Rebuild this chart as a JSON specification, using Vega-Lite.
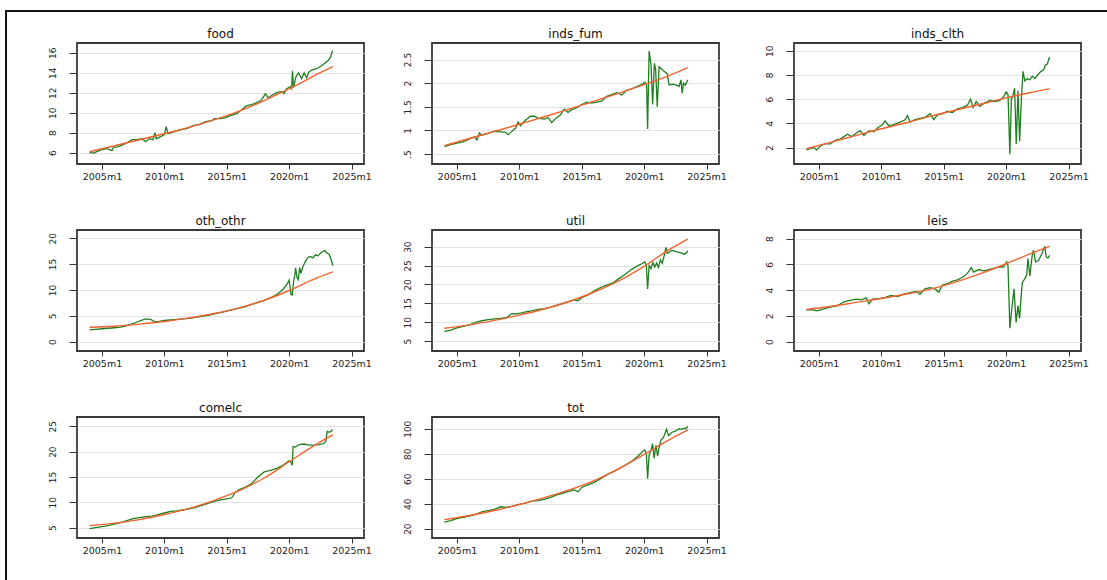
{
"$schema": "https://vega.github.io/schema/vega-lite/v6.json",
"padding": {"left": 5, "top": 10, "right": 0, "bottom": 0},
"background": "white",
"config": {
  "view": {"stroke": "#3a3a3a", "strokeWidth": 1.8},
  "title": {"font": "DejaVu Sans", "fontSize": 12, "fontWeight": "normal", "color": "#111", "anchor": "middle", "frame": "group", "offset": 2, "baseline": "bottom"},
  "axis": {"labelFont": "DejaVu Sans", "labelFontSize": 9, "labelColor": "#222", "tickColor": "#333", "domain": false, "labelFlush": false, "labelOverlap": false, "title": null},
  "axisX": {"grid": false, "tickSize": 5, "labelPadding": 2, "labelFontSize": 9.5},
  "axisY": {"grid": true, "gridColor": "#e2e2e2", "gridWidth": 1.2, "tickSize": 8, "labelPadding": 12, "labelAngle": -90, "labelAlign": "center", "labelBaseline": "bottom"}
},
"data": {"values": [
{"p":"food","s":"a","x":2004.0,"v":6.0},{"p":"food","s":"a","x":2004.3,"v":5.95},{"p":"food","s":"a","x":2004.6,"v":6.1},{"p":"food","s":"a","x":2005.0,"v":6.3},{"p":"food","s":"a","x":2005.4,"v":6.4},{"p":"food","s":"a","x":2005.8,"v":6.2},{"p":"food","s":"a","x":2005.9,"v":6.5},{"p":"food","s":"a","x":2006.3,"v":6.6},{"p":"food","s":"a","x":2006.7,"v":6.8},{"p":"food","s":"a","x":2007.0,"v":7.0},{"p":"food","s":"a","x":2007.4,"v":7.3},{"p":"food","s":"a","x":2007.8,"v":7.3},{"p":"food","s":"a","x":2008.2,"v":7.4},{"p":"food","s":"a","x":2008.5,"v":7.1},{"p":"food","s":"a","x":2008.8,"v":7.4},{"p":"food","s":"a","x":2009.1,"v":7.3},{"p":"food","s":"a","x":2009.25,"v":8.0},{"p":"food","s":"a","x":2009.35,"v":7.4},{"p":"food","s":"a","x":2009.7,"v":7.6},{"p":"food","s":"a","x":2010.0,"v":7.8},{"p":"food","s":"a","x":2010.15,"v":8.6},{"p":"food","s":"a","x":2010.3,"v":7.9},{"p":"food","s":"a","x":2010.8,"v":8.1},{"p":"food","s":"a","x":2011.3,"v":8.3},{"p":"food","s":"a","x":2011.8,"v":8.4},{"p":"food","s":"a","x":2012.3,"v":8.7},{"p":"food","s":"a","x":2012.8,"v":8.8},{"p":"food","s":"a","x":2013.3,"v":9.1},{"p":"food","s":"a","x":2013.8,"v":9.2},{"p":"food","s":"a","x":2014.0,"v":9.4},{"p":"food","s":"a","x":2014.5,"v":9.4},{"p":"food","s":"a","x":2014.9,"v":9.5},{"p":"food","s":"a","x":2015.3,"v":9.7},{"p":"food","s":"a","x":2015.8,"v":9.9},{"p":"food","s":"a","x":2016.2,"v":10.3},{"p":"food","s":"a","x":2016.6,"v":10.7},{"p":"food","s":"a","x":2017.0,"v":10.8},{"p":"food","s":"a","x":2017.4,"v":11.0},{"p":"food","s":"a","x":2017.8,"v":11.3},{"p":"food","s":"a","x":2018.1,"v":11.9},{"p":"food","s":"a","x":2018.3,"v":11.5},{"p":"food","s":"a","x":2018.7,"v":11.8},{"p":"food","s":"a","x":2019.0,"v":12.0},{"p":"food","s":"a","x":2019.4,"v":12.1},{"p":"food","s":"a","x":2019.6,"v":11.9},{"p":"food","s":"a","x":2019.8,"v":12.4},{"p":"food","s":"a","x":2020.1,"v":12.6},{"p":"food","s":"a","x":2020.2,"v":12.4},{"p":"food","s":"a","x":2020.27,"v":14.2},{"p":"food","s":"a","x":2020.35,"v":12.5},{"p":"food","s":"a","x":2020.55,"v":13.6},{"p":"food","s":"a","x":2020.75,"v":14.0},{"p":"food","s":"a","x":2021.0,"v":13.4},{"p":"food","s":"a","x":2021.2,"v":14.0},{"p":"food","s":"a","x":2021.4,"v":13.5},{"p":"food","s":"a","x":2021.6,"v":14.1},{"p":"food","s":"a","x":2021.9,"v":14.3},{"p":"food","s":"a","x":2022.2,"v":14.4},{"p":"food","s":"a","x":2022.6,"v":14.7},{"p":"food","s":"a","x":2022.9,"v":15.0},{"p":"food","s":"a","x":2023.1,"v":15.2},{"p":"food","s":"a","x":2023.3,"v":15.5},{"p":"food","s":"a","x":2023.45,"v":16.1},{"p":"food","s":"a","x":2023.5,"v":16.2},
{"p":"food","s":"t","x":2004,"v":6.1},{"p":"food","s":"t","x":2005,"v":6.4},{"p":"food","s":"t","x":2006,"v":6.7},{"p":"food","s":"t","x":2007,"v":7.0},{"p":"food","s":"t","x":2008,"v":7.3},{"p":"food","s":"t","x":2009,"v":7.6},{"p":"food","s":"t","x":2010,"v":7.9},{"p":"food","s":"t","x":2011,"v":8.2},{"p":"food","s":"t","x":2012,"v":8.55},{"p":"food","s":"t","x":2013,"v":8.9},{"p":"food","s":"t","x":2014,"v":9.3},{"p":"food","s":"t","x":2015,"v":9.7},{"p":"food","s":"t","x":2016,"v":10.15},{"p":"food","s":"t","x":2017,"v":10.65},{"p":"food","s":"t","x":2018,"v":11.2},{"p":"food","s":"t","x":2019,"v":11.8},{"p":"food","s":"t","x":2020,"v":12.4},{"p":"food","s":"t","x":2021,"v":13.0},{"p":"food","s":"t","x":2022,"v":13.7},{"p":"food","s":"t","x":2023,"v":14.3},{"p":"food","s":"t","x":2023.5,"v":14.6},
{"p":"inds_fum","s":"a","x":2004.0,"v":0.66},{"p":"inds_fum","s":"a","x":2004.5,"v":0.70},{"p":"inds_fum","s":"a","x":2005.0,"v":0.73},{"p":"inds_fum","s":"a","x":2005.5,"v":0.76},{"p":"inds_fum","s":"a","x":2006.0,"v":0.82},{"p":"inds_fum","s":"a","x":2006.4,"v":0.86},{"p":"inds_fum","s":"a","x":2006.6,"v":0.80},{"p":"inds_fum","s":"a","x":2006.8,"v":0.95},{"p":"inds_fum","s":"a","x":2007.0,"v":0.90},{"p":"inds_fum","s":"a","x":2007.5,"v":0.94},{"p":"inds_fum","s":"a","x":2008.0,"v":0.98},{"p":"inds_fum","s":"a","x":2008.5,"v":0.97},{"p":"inds_fum","s":"a","x":2008.9,"v":0.96},{"p":"inds_fum","s":"a","x":2009.1,"v":0.91},{"p":"inds_fum","s":"a","x":2009.4,"v":0.98},{"p":"inds_fum","s":"a","x":2009.7,"v":1.05},{"p":"inds_fum","s":"a","x":2009.9,"v":1.18},{"p":"inds_fum","s":"a","x":2010.1,"v":1.10},{"p":"inds_fum","s":"a","x":2010.5,"v":1.22},{"p":"inds_fum","s":"a","x":2010.9,"v":1.30},{"p":"inds_fum","s":"a","x":2011.2,"v":1.30},{"p":"inds_fum","s":"a","x":2011.5,"v":1.26},{"p":"inds_fum","s":"a","x":2012.0,"v":1.24},{"p":"inds_fum","s":"a","x":2012.3,"v":1.27},{"p":"inds_fum","s":"a","x":2012.6,"v":1.17},{"p":"inds_fum","s":"a","x":2012.9,"v":1.25},{"p":"inds_fum","s":"a","x":2013.3,"v":1.33},{"p":"inds_fum","s":"a","x":2013.6,"v":1.45},{"p":"inds_fum","s":"a","x":2013.9,"v":1.38},{"p":"inds_fum","s":"a","x":2014.2,"v":1.44},{"p":"inds_fum","s":"a","x":2014.6,"v":1.48},{"p":"inds_fum","s":"a","x":2015.0,"v":1.55},{"p":"inds_fum","s":"a","x":2015.4,"v":1.60},{"p":"inds_fum","s":"a","x":2015.8,"v":1.58},{"p":"inds_fum","s":"a","x":2016.2,"v":1.60},{"p":"inds_fum","s":"a","x":2016.6,"v":1.62},{"p":"inds_fum","s":"a","x":2017.0,"v":1.72},{"p":"inds_fum","s":"a","x":2017.4,"v":1.76},{"p":"inds_fum","s":"a","x":2017.8,"v":1.80},{"p":"inds_fum","s":"a","x":2018.2,"v":1.75},{"p":"inds_fum","s":"a","x":2018.6,"v":1.85},{"p":"inds_fum","s":"a","x":2019.0,"v":1.88},{"p":"inds_fum","s":"a","x":2019.4,"v":1.93},{"p":"inds_fum","s":"a","x":2019.8,"v":1.97},{"p":"inds_fum","s":"a","x":2020.05,"v":2.02},{"p":"inds_fum","s":"a","x":2020.2,"v":1.95},{"p":"inds_fum","s":"a","x":2020.28,"v":1.03},{"p":"inds_fum","s":"a","x":2020.4,"v":2.68},{"p":"inds_fum","s":"a","x":2020.55,"v":2.4},{"p":"inds_fum","s":"a","x":2020.68,"v":1.55},{"p":"inds_fum","s":"a","x":2020.82,"v":2.42},{"p":"inds_fum","s":"a","x":2020.92,"v":2.3},{"p":"inds_fum","s":"a","x":2021.05,"v":1.5},{"p":"inds_fum","s":"a","x":2021.2,"v":2.35},{"p":"inds_fum","s":"a","x":2021.4,"v":2.3},{"p":"inds_fum","s":"a","x":2021.6,"v":2.25},{"p":"inds_fum","s":"a","x":2021.85,"v":2.2},{"p":"inds_fum","s":"a","x":2022.0,"v":1.96},{"p":"inds_fum","s":"a","x":2022.3,"v":1.98},{"p":"inds_fum","s":"a","x":2022.6,"v":1.96},{"p":"inds_fum","s":"a","x":2022.8,"v":1.93},{"p":"inds_fum","s":"a","x":2022.95,"v":2.07},{"p":"inds_fum","s":"a","x":2023.05,"v":1.79},{"p":"inds_fum","s":"a","x":2023.15,"v":2.0},{"p":"inds_fum","s":"a","x":2023.3,"v":1.96},{"p":"inds_fum","s":"a","x":2023.5,"v":2.07},
{"p":"inds_fum","s":"t","x":2004,"v":0.68},{"p":"inds_fum","s":"t","x":2006,"v":0.83},{"p":"inds_fum","s":"t","x":2008,"v":0.98},{"p":"inds_fum","s":"t","x":2010,"v":1.13},{"p":"inds_fum","s":"t","x":2012,"v":1.29},{"p":"inds_fum","s":"t","x":2014,"v":1.45},{"p":"inds_fum","s":"t","x":2016,"v":1.62},{"p":"inds_fum","s":"t","x":2018,"v":1.79},{"p":"inds_fum","s":"t","x":2020,"v":1.97},{"p":"inds_fum","s":"t","x":2022,"v":2.16},{"p":"inds_fum","s":"t","x":2023.5,"v":2.33},
{"p":"inds_clth","s":"a","x":2004.0,"v":1.8},{"p":"inds_clth","s":"a","x":2004.3,"v":1.9},{"p":"inds_clth","s":"a","x":2004.6,"v":2.0},{"p":"inds_clth","s":"a","x":2004.8,"v":1.8},{"p":"inds_clth","s":"a","x":2005.2,"v":2.2},{"p":"inds_clth","s":"a","x":2005.5,"v":2.3},{"p":"inds_clth","s":"a","x":2005.9,"v":2.3},{"p":"inds_clth","s":"a","x":2006.3,"v":2.6},{"p":"inds_clth","s":"a","x":2006.7,"v":2.7},{"p":"inds_clth","s":"a","x":2007.0,"v":2.9},{"p":"inds_clth","s":"a","x":2007.3,"v":3.1},{"p":"inds_clth","s":"a","x":2007.6,"v":2.9},{"p":"inds_clth","s":"a","x":2008.0,"v":3.2},{"p":"inds_clth","s":"a","x":2008.3,"v":3.4},{"p":"inds_clth","s":"a","x":2008.6,"v":3.0},{"p":"inds_clth","s":"a","x":2009.0,"v":3.4},{"p":"inds_clth","s":"a","x":2009.4,"v":3.3},{"p":"inds_clth","s":"a","x":2009.8,"v":3.7},{"p":"inds_clth","s":"a","x":2010.1,"v":3.9},{"p":"inds_clth","s":"a","x":2010.3,"v":4.2},{"p":"inds_clth","s":"a","x":2010.6,"v":3.8},{"p":"inds_clth","s":"a","x":2011.0,"v":3.9},{"p":"inds_clth","s":"a","x":2011.5,"v":4.1},{"p":"inds_clth","s":"a","x":2011.9,"v":4.3},{"p":"inds_clth","s":"a","x":2012.1,"v":4.65},{"p":"inds_clth","s":"a","x":2012.3,"v":4.1},{"p":"inds_clth","s":"a","x":2012.7,"v":4.3},{"p":"inds_clth","s":"a","x":2013.1,"v":4.4},{"p":"inds_clth","s":"a","x":2013.5,"v":4.5},{"p":"inds_clth","s":"a","x":2013.9,"v":4.8},{"p":"inds_clth","s":"a","x":2014.2,"v":4.3},{"p":"inds_clth","s":"a","x":2014.5,"v":4.7},{"p":"inds_clth","s":"a","x":2014.9,"v":4.8},{"p":"inds_clth","s":"a","x":2015.3,"v":5.0},{"p":"inds_clth","s":"a","x":2015.7,"v":4.9},{"p":"inds_clth","s":"a","x":2016.1,"v":5.2},{"p":"inds_clth","s":"a","x":2016.5,"v":5.3},{"p":"inds_clth","s":"a","x":2016.9,"v":5.5},{"p":"inds_clth","s":"a","x":2017.15,"v":6.0},{"p":"inds_clth","s":"a","x":2017.35,"v":5.3},{"p":"inds_clth","s":"a","x":2017.6,"v":5.8},{"p":"inds_clth","s":"a","x":2017.9,"v":5.4},{"p":"inds_clth","s":"a","x":2018.3,"v":5.7},{"p":"inds_clth","s":"a","x":2018.7,"v":5.9},{"p":"inds_clth","s":"a","x":2019.1,"v":5.8},{"p":"inds_clth","s":"a","x":2019.5,"v":5.9},{"p":"inds_clth","s":"a","x":2019.8,"v":6.2},{"p":"inds_clth","s":"a","x":2020.0,"v":6.6},{"p":"inds_clth","s":"a","x":2020.15,"v":6.4},{"p":"inds_clth","s":"a","x":2020.3,"v":1.45},{"p":"inds_clth","s":"a","x":2020.42,"v":6.0},{"p":"inds_clth","s":"a","x":2020.55,"v":6.3},{"p":"inds_clth","s":"a","x":2020.68,"v":6.9},{"p":"inds_clth","s":"a","x":2020.81,"v":2.3},{"p":"inds_clth","s":"a","x":2020.95,"v":6.7},{"p":"inds_clth","s":"a","x":2021.08,"v":2.5},{"p":"inds_clth","s":"a","x":2021.22,"v":6.0},{"p":"inds_clth","s":"a","x":2021.35,"v":8.3},{"p":"inds_clth","s":"a","x":2021.5,"v":7.5},{"p":"inds_clth","s":"a","x":2021.7,"v":7.7},{"p":"inds_clth","s":"a","x":2021.9,"v":7.6},{"p":"inds_clth","s":"a","x":2022.1,"v":7.9},{"p":"inds_clth","s":"a","x":2022.3,"v":7.7},{"p":"inds_clth","s":"a","x":2022.6,"v":8.1},{"p":"inds_clth","s":"a","x":2022.8,"v":8.3},{"p":"inds_clth","s":"a","x":2023.0,"v":8.4},{"p":"inds_clth","s":"a","x":2023.15,"v":8.8},{"p":"inds_clth","s":"a","x":2023.3,"v":8.9},{"p":"inds_clth","s":"a","x":2023.45,"v":9.4},{"p":"inds_clth","s":"a","x":2023.5,"v":9.3},
{"p":"inds_clth","s":"t","x":2004,"v":1.9},{"p":"inds_clth","s":"t","x":2006,"v":2.45},{"p":"inds_clth","s":"t","x":2008,"v":3.0},{"p":"inds_clth","s":"t","x":2010,"v":3.55},{"p":"inds_clth","s":"t","x":2012,"v":4.05},{"p":"inds_clth","s":"t","x":2014,"v":4.6},{"p":"inds_clth","s":"t","x":2016,"v":5.1},{"p":"inds_clth","s":"t","x":2018,"v":5.6},{"p":"inds_clth","s":"t","x":2020,"v":6.1},{"p":"inds_clth","s":"t","x":2022,"v":6.55},{"p":"inds_clth","s":"t","x":2023.5,"v":6.85},
{"p":"oth_othr","s":"a","x":2004.0,"v":2.3},{"p":"oth_othr","s":"a","x":2004.5,"v":2.4},{"p":"oth_othr","s":"a","x":2005.0,"v":2.5},{"p":"oth_othr","s":"a","x":2005.5,"v":2.6},{"p":"oth_othr","s":"a","x":2006.0,"v":2.7},{"p":"oth_othr","s":"a","x":2006.5,"v":2.8},{"p":"oth_othr","s":"a","x":2007.0,"v":3.1},{"p":"oth_othr","s":"a","x":2007.5,"v":3.5},{"p":"oth_othr","s":"a","x":2008.0,"v":4.0},{"p":"oth_othr","s":"a","x":2008.5,"v":4.4},{"p":"oth_othr","s":"a","x":2008.9,"v":4.3},{"p":"oth_othr","s":"a","x":2009.2,"v":3.9},{"p":"oth_othr","s":"a","x":2009.5,"v":3.9},{"p":"oth_othr","s":"a","x":2010.0,"v":4.1},{"p":"oth_othr","s":"a","x":2010.5,"v":4.2},{"p":"oth_othr","s":"a","x":2011.0,"v":4.3},{"p":"oth_othr","s":"a","x":2011.5,"v":4.4},{"p":"oth_othr","s":"a","x":2012.0,"v":4.5},{"p":"oth_othr","s":"a","x":2012.5,"v":4.7},{"p":"oth_othr","s":"a","x":2013.0,"v":4.9},{"p":"oth_othr","s":"a","x":2013.5,"v":5.1},{"p":"oth_othr","s":"a","x":2014.0,"v":5.4},{"p":"oth_othr","s":"a","x":2014.5,"v":5.6},{"p":"oth_othr","s":"a","x":2015.0,"v":5.9},{"p":"oth_othr","s":"a","x":2015.5,"v":6.2},{"p":"oth_othr","s":"a","x":2016.0,"v":6.5},{"p":"oth_othr","s":"a","x":2016.5,"v":6.8},{"p":"oth_othr","s":"a","x":2017.0,"v":7.2},{"p":"oth_othr","s":"a","x":2017.5,"v":7.6},{"p":"oth_othr","s":"a","x":2018.0,"v":8.0},{"p":"oth_othr","s":"a","x":2018.5,"v":8.5},{"p":"oth_othr","s":"a","x":2019.0,"v":9.1},{"p":"oth_othr","s":"a","x":2019.5,"v":10.1},{"p":"oth_othr","s":"a","x":2019.85,"v":11.2},{"p":"oth_othr","s":"a","x":2020.0,"v":11.9},{"p":"oth_othr","s":"a","x":2020.15,"v":9.1},{"p":"oth_othr","s":"a","x":2020.25,"v":9.0},{"p":"oth_othr","s":"a","x":2020.35,"v":11.5},{"p":"oth_othr","s":"a","x":2020.45,"v":12.8},{"p":"oth_othr","s":"a","x":2020.52,"v":14.3},{"p":"oth_othr","s":"a","x":2020.62,"v":12.5},{"p":"oth_othr","s":"a","x":2020.73,"v":12.0},{"p":"oth_othr","s":"a","x":2020.85,"v":14.3},{"p":"oth_othr","s":"a","x":2020.95,"v":13.2},{"p":"oth_othr","s":"a","x":2021.1,"v":14.5},{"p":"oth_othr","s":"a","x":2021.3,"v":15.5},{"p":"oth_othr","s":"a","x":2021.5,"v":16.3},{"p":"oth_othr","s":"a","x":2021.7,"v":16.5},{"p":"oth_othr","s":"a","x":2021.9,"v":16.2},{"p":"oth_othr","s":"a","x":2022.1,"v":16.8},{"p":"oth_othr","s":"a","x":2022.3,"v":16.6},{"p":"oth_othr","s":"a","x":2022.55,"v":17.2},{"p":"oth_othr","s":"a","x":2022.85,"v":17.6},{"p":"oth_othr","s":"a","x":2023.0,"v":17.2},{"p":"oth_othr","s":"a","x":2023.2,"v":16.9},{"p":"oth_othr","s":"a","x":2023.35,"v":16.0},{"p":"oth_othr","s":"a","x":2023.5,"v":14.7},
{"p":"oth_othr","s":"t","x":2004,"v":2.8},{"p":"oth_othr","s":"t","x":2006,"v":3.0},{"p":"oth_othr","s":"t","x":2008,"v":3.4},{"p":"oth_othr","s":"t","x":2010,"v":3.9},{"p":"oth_othr","s":"t","x":2012,"v":4.6},{"p":"oth_othr","s":"t","x":2014,"v":5.45},{"p":"oth_othr","s":"t","x":2016,"v":6.55},{"p":"oth_othr","s":"t","x":2018,"v":8.0},{"p":"oth_othr","s":"t","x":2020,"v":9.9},{"p":"oth_othr","s":"t","x":2022,"v":12.1},{"p":"oth_othr","s":"t","x":2023.5,"v":13.5},
{"p":"util","s":"a","x":2004.0,"v":7.5},{"p":"util","s":"a","x":2004.5,"v":7.9},{"p":"util","s":"a","x":2005.0,"v":8.5},{"p":"util","s":"a","x":2005.5,"v":8.9},{"p":"util","s":"a","x":2006.0,"v":9.3},{"p":"util","s":"a","x":2006.5,"v":10.0},{"p":"util","s":"a","x":2007.0,"v":10.4},{"p":"util","s":"a","x":2007.5,"v":10.7},{"p":"util","s":"a","x":2008.0,"v":10.9},{"p":"util","s":"a","x":2008.5,"v":11.0},{"p":"util","s":"a","x":2009.0,"v":11.3},{"p":"util","s":"a","x":2009.4,"v":12.3},{"p":"util","s":"a","x":2009.8,"v":12.2},{"p":"util","s":"a","x":2010.2,"v":12.5},{"p":"util","s":"a","x":2010.6,"v":12.8},{"p":"util","s":"a","x":2011.0,"v":13.0},{"p":"util","s":"a","x":2011.5,"v":13.4},{"p":"util","s":"a","x":2012.0,"v":13.6},{"p":"util","s":"a","x":2012.5,"v":14.0},{"p":"util","s":"a","x":2013.0,"v":14.5},{"p":"util","s":"a","x":2013.5,"v":15.0},{"p":"util","s":"a","x":2014.0,"v":15.5},{"p":"util","s":"a","x":2014.4,"v":15.9},{"p":"util","s":"a","x":2014.7,"v":15.7},{"p":"util","s":"a","x":2015.0,"v":16.5},{"p":"util","s":"a","x":2015.5,"v":17.2},{"p":"util","s":"a","x":2016.0,"v":18.3},{"p":"util","s":"a","x":2016.5,"v":19.2},{"p":"util","s":"a","x":2017.0,"v":19.8},{"p":"util","s":"a","x":2017.5,"v":20.4},{"p":"util","s":"a","x":2018.0,"v":21.6},{"p":"util","s":"a","x":2018.5,"v":22.7},{"p":"util","s":"a","x":2019.0,"v":24.0},{"p":"util","s":"a","x":2019.5,"v":25.0},{"p":"util","s":"a","x":2019.9,"v":25.6},{"p":"util","s":"a","x":2020.05,"v":26.0},{"p":"util","s":"a","x":2020.18,"v":25.0},{"p":"util","s":"a","x":2020.28,"v":18.8},{"p":"util","s":"a","x":2020.4,"v":25.0},{"p":"util","s":"a","x":2020.55,"v":24.2},{"p":"util","s":"a","x":2020.7,"v":25.8},{"p":"util","s":"a","x":2020.85,"v":24.6},{"p":"util","s":"a","x":2021.0,"v":25.7},{"p":"util","s":"a","x":2021.15,"v":24.5},{"p":"util","s":"a","x":2021.3,"v":26.5},{"p":"util","s":"a","x":2021.45,"v":25.6},{"p":"util","s":"a","x":2021.6,"v":27.5},{"p":"util","s":"a","x":2021.75,"v":29.8},{"p":"util","s":"a","x":2021.85,"v":28.2},{"p":"util","s":"a","x":2022.0,"v":28.5},{"p":"util","s":"a","x":2022.2,"v":29.0},{"p":"util","s":"a","x":2022.4,"v":28.9},{"p":"util","s":"a","x":2022.6,"v":28.6},{"p":"util","s":"a","x":2022.8,"v":28.5},{"p":"util","s":"a","x":2023.0,"v":28.3},{"p":"util","s":"a","x":2023.2,"v":28.0},{"p":"util","s":"a","x":2023.35,"v":28.2},{"p":"util","s":"a","x":2023.5,"v":28.9},
{"p":"util","s":"t","x":2004,"v":8.4},{"p":"util","s":"t","x":2006,"v":9.3},{"p":"util","s":"t","x":2008,"v":10.5},{"p":"util","s":"t","x":2010,"v":11.9},{"p":"util","s":"t","x":2012,"v":13.5},{"p":"util","s":"t","x":2014,"v":15.5},{"p":"util","s":"t","x":2016,"v":18.0},{"p":"util","s":"t","x":2018,"v":21.0},{"p":"util","s":"t","x":2020,"v":24.8},{"p":"util","s":"t","x":2022,"v":29.2},{"p":"util","s":"t","x":2023.5,"v":32.0},
{"p":"leis","s":"a","x":2004.0,"v":2.45},{"p":"leis","s":"a","x":2004.4,"v":2.5},{"p":"leis","s":"a","x":2004.8,"v":2.4},{"p":"leis","s":"a","x":2005.2,"v":2.5},{"p":"leis","s":"a","x":2005.6,"v":2.6},{"p":"leis","s":"a","x":2006.0,"v":2.7},{"p":"leis","s":"a","x":2006.5,"v":2.8},{"p":"leis","s":"a","x":2007.0,"v":3.1},{"p":"leis","s":"a","x":2007.5,"v":3.2},{"p":"leis","s":"a","x":2008.0,"v":3.3},{"p":"leis","s":"a","x":2008.4,"v":3.25},{"p":"leis","s":"a","x":2008.8,"v":3.4},{"p":"leis","s":"a","x":2009.0,"v":2.95},{"p":"leis","s":"a","x":2009.3,"v":3.3},{"p":"leis","s":"a","x":2009.8,"v":3.35},{"p":"leis","s":"a","x":2010.3,"v":3.45},{"p":"leis","s":"a","x":2010.8,"v":3.6},{"p":"leis","s":"a","x":2011.3,"v":3.5},{"p":"leis","s":"a","x":2011.8,"v":3.7},{"p":"leis","s":"a","x":2012.3,"v":3.8},{"p":"leis","s":"a","x":2012.8,"v":3.9},{"p":"leis","s":"a","x":2013.1,"v":3.7},{"p":"leis","s":"a","x":2013.5,"v":4.1},{"p":"leis","s":"a","x":2013.9,"v":4.2},{"p":"leis","s":"a","x":2014.3,"v":4.1},{"p":"leis","s":"a","x":2014.6,"v":3.85},{"p":"leis","s":"a","x":2014.9,"v":4.4},{"p":"leis","s":"a","x":2015.3,"v":4.5},{"p":"leis","s":"a","x":2015.7,"v":4.7},{"p":"leis","s":"a","x":2016.1,"v":4.8},{"p":"leis","s":"a","x":2016.5,"v":5.0},{"p":"leis","s":"a","x":2016.9,"v":5.3},{"p":"leis","s":"a","x":2017.2,"v":5.75},{"p":"leis","s":"a","x":2017.4,"v":5.4},{"p":"leis","s":"a","x":2017.8,"v":5.6},{"p":"leis","s":"a","x":2018.2,"v":5.5},{"p":"leis","s":"a","x":2018.6,"v":5.6},{"p":"leis","s":"a","x":2019.0,"v":5.7},{"p":"leis","s":"a","x":2019.4,"v":5.8},{"p":"leis","s":"a","x":2019.8,"v":5.8},{"p":"leis","s":"a","x":2020.05,"v":6.2},{"p":"leis","s":"a","x":2020.15,"v":5.9},{"p":"leis","s":"a","x":2020.3,"v":1.05},{"p":"leis","s":"a","x":2020.45,"v":2.5},{"p":"leis","s":"a","x":2020.63,"v":4.1},{"p":"leis","s":"a","x":2020.8,"v":1.5},{"p":"leis","s":"a","x":2020.95,"v":2.8},{"p":"leis","s":"a","x":2021.08,"v":1.8},{"p":"leis","s":"a","x":2021.2,"v":3.5},{"p":"leis","s":"a","x":2021.3,"v":4.6},{"p":"leis","s":"a","x":2021.5,"v":4.9},{"p":"leis","s":"a","x":2021.65,"v":5.2},{"p":"leis","s":"a","x":2021.75,"v":6.45},{"p":"leis","s":"a","x":2021.9,"v":5.1},{"p":"leis","s":"a","x":2022.1,"v":6.8},{"p":"leis","s":"a","x":2022.2,"v":7.1},{"p":"leis","s":"a","x":2022.35,"v":6.2},{"p":"leis","s":"a","x":2022.6,"v":6.3},{"p":"leis","s":"a","x":2022.85,"v":6.8},{"p":"leis","s":"a","x":2023.1,"v":7.4},{"p":"leis","s":"a","x":2023.2,"v":6.6},{"p":"leis","s":"a","x":2023.35,"v":6.5},{"p":"leis","s":"a","x":2023.5,"v":6.7},
{"p":"leis","s":"t","x":2004,"v":2.5},{"p":"leis","s":"t","x":2006,"v":2.75},{"p":"leis","s":"t","x":2008,"v":3.05},{"p":"leis","s":"t","x":2010,"v":3.35},{"p":"leis","s":"t","x":2012,"v":3.7},{"p":"leis","s":"t","x":2014,"v":4.1},{"p":"leis","s":"t","x":2016,"v":4.65},{"p":"leis","s":"t","x":2018,"v":5.3},{"p":"leis","s":"t","x":2020,"v":6.05},{"p":"leis","s":"t","x":2022,"v":6.85},{"p":"leis","s":"t","x":2023.5,"v":7.4},
{"p":"comelc","s":"a","x":2004.0,"v":4.8},{"p":"comelc","s":"a","x":2004.5,"v":5.0},{"p":"comelc","s":"a","x":2005.0,"v":5.2},{"p":"comelc","s":"a","x":2005.5,"v":5.4},{"p":"comelc","s":"a","x":2006.0,"v":5.7},{"p":"comelc","s":"a","x":2006.5,"v":6.0},{"p":"comelc","s":"a","x":2007.0,"v":6.4},{"p":"comelc","s":"a","x":2007.5,"v":6.8},{"p":"comelc","s":"a","x":2008.0,"v":7.0},{"p":"comelc","s":"a","x":2008.5,"v":7.2},{"p":"comelc","s":"a","x":2009.0,"v":7.3},{"p":"comelc","s":"a","x":2009.5,"v":7.6},{"p":"comelc","s":"a","x":2010.0,"v":7.9},{"p":"comelc","s":"a","x":2010.5,"v":8.2},{"p":"comelc","s":"a","x":2011.0,"v":8.3},{"p":"comelc","s":"a","x":2011.5,"v":8.5},{"p":"comelc","s":"a","x":2012.0,"v":8.7},{"p":"comelc","s":"a","x":2012.5,"v":9.0},{"p":"comelc","s":"a","x":2013.0,"v":9.4},{"p":"comelc","s":"a","x":2013.5,"v":9.8},{"p":"comelc","s":"a","x":2014.0,"v":10.2},{"p":"comelc","s":"a","x":2014.5,"v":10.5},{"p":"comelc","s":"a","x":2015.0,"v":10.7},{"p":"comelc","s":"a","x":2015.4,"v":10.9},{"p":"comelc","s":"a","x":2015.7,"v":12.0},{"p":"comelc","s":"a","x":2016.0,"v":12.5},{"p":"comelc","s":"a","x":2016.5,"v":13.0},{"p":"comelc","s":"a","x":2017.0,"v":13.7},{"p":"comelc","s":"a","x":2017.5,"v":15.0},{"p":"comelc","s":"a","x":2018.0,"v":16.0},{"p":"comelc","s":"a","x":2018.5,"v":16.3},{"p":"comelc","s":"a","x":2019.0,"v":16.7},{"p":"comelc","s":"a","x":2019.5,"v":17.3},{"p":"comelc","s":"a","x":2020.0,"v":18.2},{"p":"comelc","s":"a","x":2020.15,"v":17.9},{"p":"comelc","s":"a","x":2020.25,"v":17.3},{"p":"comelc","s":"a","x":2020.32,"v":21.0},{"p":"comelc","s":"a","x":2020.5,"v":20.9},{"p":"comelc","s":"a","x":2020.8,"v":21.4},{"p":"comelc","s":"a","x":2021.2,"v":21.5},{"p":"comelc","s":"a","x":2021.6,"v":21.3},{"p":"comelc","s":"a","x":2022.0,"v":21.3},{"p":"comelc","s":"a","x":2022.4,"v":21.4},{"p":"comelc","s":"a","x":2022.8,"v":21.6},{"p":"comelc","s":"a","x":2022.95,"v":22.2},{"p":"comelc","s":"a","x":2023.05,"v":24.0},{"p":"comelc","s":"a","x":2023.2,"v":23.8},{"p":"comelc","s":"a","x":2023.35,"v":24.0},{"p":"comelc","s":"a","x":2023.5,"v":24.3},
{"p":"comelc","s":"t","x":2004,"v":5.4},{"p":"comelc","s":"t","x":2006,"v":5.9},{"p":"comelc","s":"t","x":2008,"v":6.6},{"p":"comelc","s":"t","x":2010,"v":7.6},{"p":"comelc","s":"t","x":2012,"v":8.8},{"p":"comelc","s":"t","x":2014,"v":10.4},{"p":"comelc","s":"t","x":2016,"v":12.3},{"p":"comelc","s":"t","x":2018,"v":14.8},{"p":"comelc","s":"t","x":2020,"v":18.0},{"p":"comelc","s":"t","x":2022,"v":21.2},{"p":"comelc","s":"t","x":2023.5,"v":23.3},
{"p":"tot","s":"a","x":2004.0,"v":25.3},{"p":"tot","s":"a","x":2004.5,"v":26.5},{"p":"tot","s":"a","x":2005.0,"v":28.0},{"p":"tot","s":"a","x":2005.5,"v":29.0},{"p":"tot","s":"a","x":2006.0,"v":30.0},{"p":"tot","s":"a","x":2006.5,"v":31.5},{"p":"tot","s":"a","x":2007.0,"v":33.5},{"p":"tot","s":"a","x":2007.5,"v":34.5},{"p":"tot","s":"a","x":2008.0,"v":35.5},{"p":"tot","s":"a","x":2008.5,"v":37.5},{"p":"tot","s":"a","x":2009.0,"v":37.0},{"p":"tot","s":"a","x":2009.5,"v":38.0},{"p":"tot","s":"a","x":2010.0,"v":39.5},{"p":"tot","s":"a","x":2010.5,"v":40.5},{"p":"tot","s":"a","x":2011.0,"v":42.0},{"p":"tot","s":"a","x":2011.5,"v":42.5},{"p":"tot","s":"a","x":2012.0,"v":43.5},{"p":"tot","s":"a","x":2012.5,"v":45.0},{"p":"tot","s":"a","x":2013.0,"v":47.0},{"p":"tot","s":"a","x":2013.5,"v":48.5},{"p":"tot","s":"a","x":2014.0,"v":50.0},{"p":"tot","s":"a","x":2014.4,"v":51.0},{"p":"tot","s":"a","x":2014.7,"v":49.5},{"p":"tot","s":"a","x":2015.0,"v":53.0},{"p":"tot","s":"a","x":2015.5,"v":55.0},{"p":"tot","s":"a","x":2016.0,"v":57.0},{"p":"tot","s":"a","x":2016.5,"v":60.0},{"p":"tot","s":"a","x":2017.0,"v":63.0},{"p":"tot","s":"a","x":2017.5,"v":65.5},{"p":"tot","s":"a","x":2018.0,"v":68.0},{"p":"tot","s":"a","x":2018.5,"v":71.0},{"p":"tot","s":"a","x":2019.0,"v":74.0},{"p":"tot","s":"a","x":2019.5,"v":78.0},{"p":"tot","s":"a","x":2019.9,"v":82.0},{"p":"tot","s":"a","x":2020.05,"v":83.0},{"p":"tot","s":"a","x":2020.18,"v":80.0},{"p":"tot","s":"a","x":2020.28,"v":60.0},{"p":"tot","s":"a","x":2020.4,"v":79.0},{"p":"tot","s":"a","x":2020.55,"v":83.0},{"p":"tot","s":"a","x":2020.68,"v":88.0},{"p":"tot","s":"a","x":2020.8,"v":76.5},{"p":"tot","s":"a","x":2020.95,"v":87.0},{"p":"tot","s":"a","x":2021.08,"v":78.0},{"p":"tot","s":"a","x":2021.2,"v":85.0},{"p":"tot","s":"a","x":2021.35,"v":91.0},{"p":"tot","s":"a","x":2021.55,"v":93.0},{"p":"tot","s":"a","x":2021.8,"v":99.5},{"p":"tot","s":"a","x":2021.95,"v":94.5},{"p":"tot","s":"a","x":2022.2,"v":97.0},{"p":"tot","s":"a","x":2022.5,"v":98.0},{"p":"tot","s":"a","x":2022.8,"v":100.0},{"p":"tot","s":"a","x":2023.0,"v":99.5},{"p":"tot","s":"a","x":2023.2,"v":100.5},{"p":"tot","s":"a","x":2023.35,"v":100.0},{"p":"tot","s":"a","x":2023.5,"v":102.0},
{"p":"tot","s":"t","x":2004,"v":27.2},{"p":"tot","s":"t","x":2006,"v":30.5},{"p":"tot","s":"t","x":2008,"v":34.5},{"p":"tot","s":"t","x":2010,"v":39.3},{"p":"tot","s":"t","x":2012,"v":44.8},{"p":"tot","s":"t","x":2014,"v":51.0},{"p":"tot","s":"t","x":2016,"v":58.5},{"p":"tot","s":"t","x":2018,"v":68.0},{"p":"tot","s":"t","x":2020,"v":79.5},{"p":"tot","s":"t","x":2022,"v":91.0},{"p":"tot","s":"t","x":2023.5,"v":99.0}
]},
"spacing": -71,
"hconcat": [
{"spacing": -2, "vconcat": [
 {"width": 70, "height": 0.01, "data": {"values": []}, "mark": "point", "view": {"stroke": "#111", "strokeWidth": 2}},
 {"width": 0.01, "height": 567, "data": {"values": []}, "mark": "point", "view": {"stroke": "#111", "strokeWidth": 2}}
]},
{"spacing": 14, "vconcat": [
{"width": 1030, "height": 0.01, "data": {"values": []}, "mark": "point", "view": {"stroke": "#111", "strokeWidth": 2}},
{"columns": 3, "align": "each", "spacing": {"row": 32, "column": 27},
"concat": [
{"title": {"text": "food"}, "width": 287, "height": 121, "transform": [{"filter": "datum.p==='food'"}],
 "encoding": {"x": {"field": "x", "type": "quantitative", "scale": {"domain": [2003, 2026], "nice": false, "zero": false}, "axis": {"values": [2005, 2010, 2015, 2020, 2025], "labelExpr": "datum.value+'m1'"}},
  "y": {"field": "v", "type": "quantitative", "scale": {"domain": [4.87, 16.97], "nice": false, "zero": false}, "axis": {"values": [6, 8, 10, 12, 14, 16], "minExtent": 70, "maxExtent": 70}}},
 "layer": [{"transform": [{"filter": "datum.s==='a'"}], "mark": {"type": "line", "color": "#1f7f1f", "strokeWidth": 1.3}},
  {"transform": [{"filter": "datum.s==='t'"}], "mark": {"type": "line", "color": "#f2622e", "strokeWidth": 1.4, "interpolate": "monotone"}}]},
{"title": {"text": "inds_fum"}, "width": 287, "height": 121, "transform": [{"filter": "datum.p==='inds_fum'"}],
 "encoding": {"x": {"field": "x", "type": "quantitative", "scale": {"domain": [2003, 2026], "nice": false, "zero": false}, "axis": {"values": [2005, 2010, 2015, 2020, 2025], "labelExpr": "datum.value+'m1'"}},
  "y": {"field": "v", "type": "quantitative", "scale": {"domain": [0.29, 2.85], "nice": false, "zero": false}, "axis": {"values": [0.5, 1, 1.5, 2, 2.5], "labelExpr": "replace(toString(datum.value),'0.','.')", "minExtent": 31, "maxExtent": 31}}},
 "layer": [{"transform": [{"filter": "datum.s==='a'"}], "mark": {"type": "line", "color": "#1f7f1f", "strokeWidth": 1.3}},
  {"transform": [{"filter": "datum.s==='t'"}], "mark": {"type": "line", "color": "#f2622e", "strokeWidth": 1.4, "interpolate": "monotone"}}]},
{"title": {"text": "inds_clth"}, "width": 287, "height": 121, "transform": [{"filter": "datum.p==='inds_clth'"}],
 "encoding": {"x": {"field": "x", "type": "quantitative", "scale": {"domain": [2003, 2026], "nice": false, "zero": false}, "axis": {"values": [2005, 2010, 2015, 2020, 2025], "labelExpr": "datum.value+'m1'"}},
  "y": {"field": "v", "type": "quantitative", "scale": {"domain": [0.64, 10.64], "nice": false, "zero": false}, "axis": {"values": [2, 4, 6, 8, 10], "minExtent": 38, "maxExtent": 38}}},
 "layer": [{"transform": [{"filter": "datum.s==='a'"}], "mark": {"type": "line", "color": "#1f7f1f", "strokeWidth": 1.3}},
  {"transform": [{"filter": "datum.s==='t'"}], "mark": {"type": "line", "color": "#f2622e", "strokeWidth": 1.4, "interpolate": "monotone"}}]},
{"title": {"text": "oth_othr"}, "width": 287, "height": 121, "transform": [{"filter": "datum.p==='oth_othr'"}],
 "encoding": {"x": {"field": "x", "type": "quantitative", "scale": {"domain": [2003, 2026], "nice": false, "zero": false}, "axis": {"values": [2005, 2010, 2015, 2020, 2025], "labelExpr": "datum.value+'m1'"}},
  "y": {"field": "v", "type": "quantitative", "scale": {"domain": [-1.8, 21.6], "nice": false, "zero": false}, "axis": {"values": [0, 5, 10, 15, 20], "minExtent": 70, "maxExtent": 70}}},
 "layer": [{"transform": [{"filter": "datum.s==='a'"}], "mark": {"type": "line", "color": "#1f7f1f", "strokeWidth": 1.3}},
  {"transform": [{"filter": "datum.s==='t'"}], "mark": {"type": "line", "color": "#f2622e", "strokeWidth": 1.4, "interpolate": "monotone"}}]},
{"title": {"text": "util"}, "width": 287, "height": 121, "transform": [{"filter": "datum.p==='util'"}],
 "encoding": {"x": {"field": "x", "type": "quantitative", "scale": {"domain": [2003, 2026], "nice": false, "zero": false}, "axis": {"values": [2005, 2010, 2015, 2020, 2025], "labelExpr": "datum.value+'m1'"}},
  "y": {"field": "v", "type": "quantitative", "scale": {"domain": [2.4, 34.4], "nice": false, "zero": false}, "axis": {"values": [5, 10, 15, 20, 25, 30], "minExtent": 31, "maxExtent": 31}}},
 "layer": [{"transform": [{"filter": "datum.s==='a'"}], "mark": {"type": "line", "color": "#1f7f1f", "strokeWidth": 1.3}},
  {"transform": [{"filter": "datum.s==='t'"}], "mark": {"type": "line", "color": "#f2622e", "strokeWidth": 1.4, "interpolate": "monotone"}}]},
{"title": {"text": "leis"}, "width": 287, "height": 121, "transform": [{"filter": "datum.p==='leis'"}],
 "encoding": {"x": {"field": "x", "type": "quantitative", "scale": {"domain": [2003, 2026], "nice": false, "zero": false}, "axis": {"values": [2005, 2010, 2015, 2020, 2025], "labelExpr": "datum.value+'m1'"}},
  "y": {"field": "v", "type": "quantitative", "scale": {"domain": [-0.72, 8.67], "nice": false, "zero": false}, "axis": {"values": [0, 2, 4, 6, 8], "minExtent": 38, "maxExtent": 38}}},
 "layer": [{"transform": [{"filter": "datum.s==='a'"}], "mark": {"type": "line", "color": "#1f7f1f", "strokeWidth": 1.3}},
  {"transform": [{"filter": "datum.s==='t'"}], "mark": {"type": "line", "color": "#f2622e", "strokeWidth": 1.4, "interpolate": "monotone"}}]},
{"title": {"text": "comelc"}, "width": 287, "height": 121, "transform": [{"filter": "datum.p==='comelc'"}],
 "encoding": {"x": {"field": "x", "type": "quantitative", "scale": {"domain": [2003, 2026], "nice": false, "zero": false}, "axis": {"values": [2005, 2010, 2015, 2020, 2025], "labelExpr": "datum.value+'m1'"}},
  "y": {"field": "v", "type": "quantitative", "scale": {"domain": [2.97, 26.83], "nice": false, "zero": false}, "axis": {"values": [5, 10, 15, 20, 25], "minExtent": 70, "maxExtent": 70}}},
 "layer": [{"transform": [{"filter": "datum.s==='a'"}], "mark": {"type": "line", "color": "#1f7f1f", "strokeWidth": 1.3}},
  {"transform": [{"filter": "datum.s==='t'"}], "mark": {"type": "line", "color": "#f2622e", "strokeWidth": 1.4, "interpolate": "monotone"}}]},
{"title": {"text": "tot"}, "width": 287, "height": 121, "transform": [{"filter": "datum.p==='tot'"}],
 "encoding": {"x": {"field": "x", "type": "quantitative", "scale": {"domain": [2003, 2026], "nice": false, "zero": false}, "axis": {"values": [2005, 2010, 2015, 2020, 2025], "labelExpr": "datum.value+'m1'"}},
  "y": {"field": "v", "type": "quantitative", "scale": {"domain": [12.5, 109.4], "nice": false, "zero": false}, "axis": {"values": [20, 40, 60, 80, 100], "minExtent": 31, "maxExtent": 31}}},
 "layer": [{"transform": [{"filter": "datum.s==='a'"}], "mark": {"type": "line", "color": "#1f7f1f", "strokeWidth": 1.3}},
  {"transform": [{"filter": "datum.s==='t'"}], "mark": {"type": "line", "color": "#f2622e", "strokeWidth": 1.4, "interpolate": "monotone"}}]}
]}
]}
]
}
